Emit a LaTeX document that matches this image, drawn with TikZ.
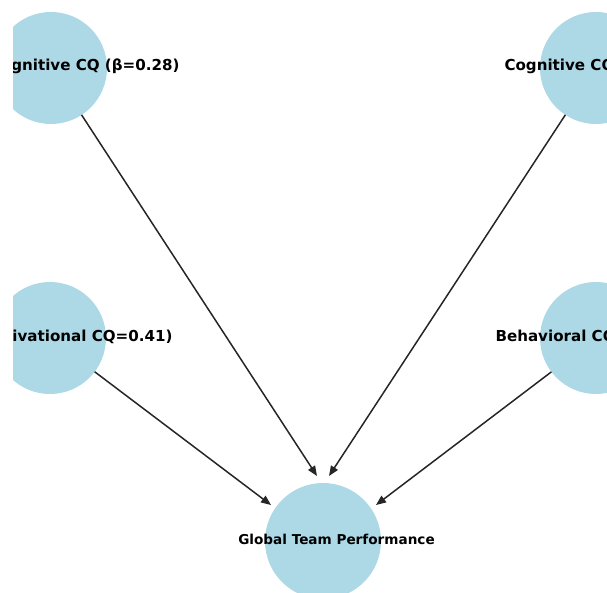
\documentclass[tikz,border=0pt]{standalone}
\usepackage{fontspec}
\setmainfont{DejaVu Sans}
\usepackage{tikz}
\definecolor{hellblau}{RGB}{173,216,230}
\usetikzlibrary{arrows.meta}

\begin{document}
\begin{tikzpicture}[knoten/.style={circle, fill=hellblau, minimum size=2*#1, inner sep=0pt, outer sep=0pt}, x=1pt, y=1pt,
        >={Triangle[length=10pt,width=8pt]},   %Pfeilspitzen
        gross/.style={font=\bfseries\fontsize{15.1}{18}\selectfont},
        font=\bfseries\fontsize{13.6}{16}\selectfont]
        %Bildbereich
        \useasboundingbox (0,0) rectangle (607,592);
        \clip (13,0) rectangle (607,592);
        % Knoten zeichnen
        \node[knoten=56pt] (kogL) at (51,524) {};
        \node[knoten=56pt] (kogR) at (596,524) {};
        \node[knoten=56pt] (motL) at (50,254) {};
        \node[knoten=56pt] (behR) at (596,254) {};
        \node[knoten=58pt] (leist) at (323,51) {};
        % Enden der Pfeile
        \coordinate (inA) at (317,116);
        \coordinate (inB) at (329,116);
        \coordinate (inC) at (271,87);
        \coordinate (inD) at (376,87);
        % Pfeile zeichnen
        \foreach \von/\nach in {kogL/inA, kogR/inB, motL/inC, behR/inD}
            \draw[->, line width=1.5pt, black!85] (\von) -- (\nach);
        % Beschriftung
        \node[gross, anchor=base east] (tKogL) at (183,521) {gnitive CQ (β=0.28)};
        \node[gross, anchor=base west] (tKogR) at (501,521) {Cognitive CQ};
        \node[gross, anchor=base east] (tMotL) at (176,251) {tivational CQ=0.41)};
        \node[gross, anchor=base west] (tBehR) at (492,251) {Behavioral CQ};
        \node[anchor=base] (tLeist) at (336.5,48) {Global Team Performance};
    \end{tikzpicture}
\end{document}
